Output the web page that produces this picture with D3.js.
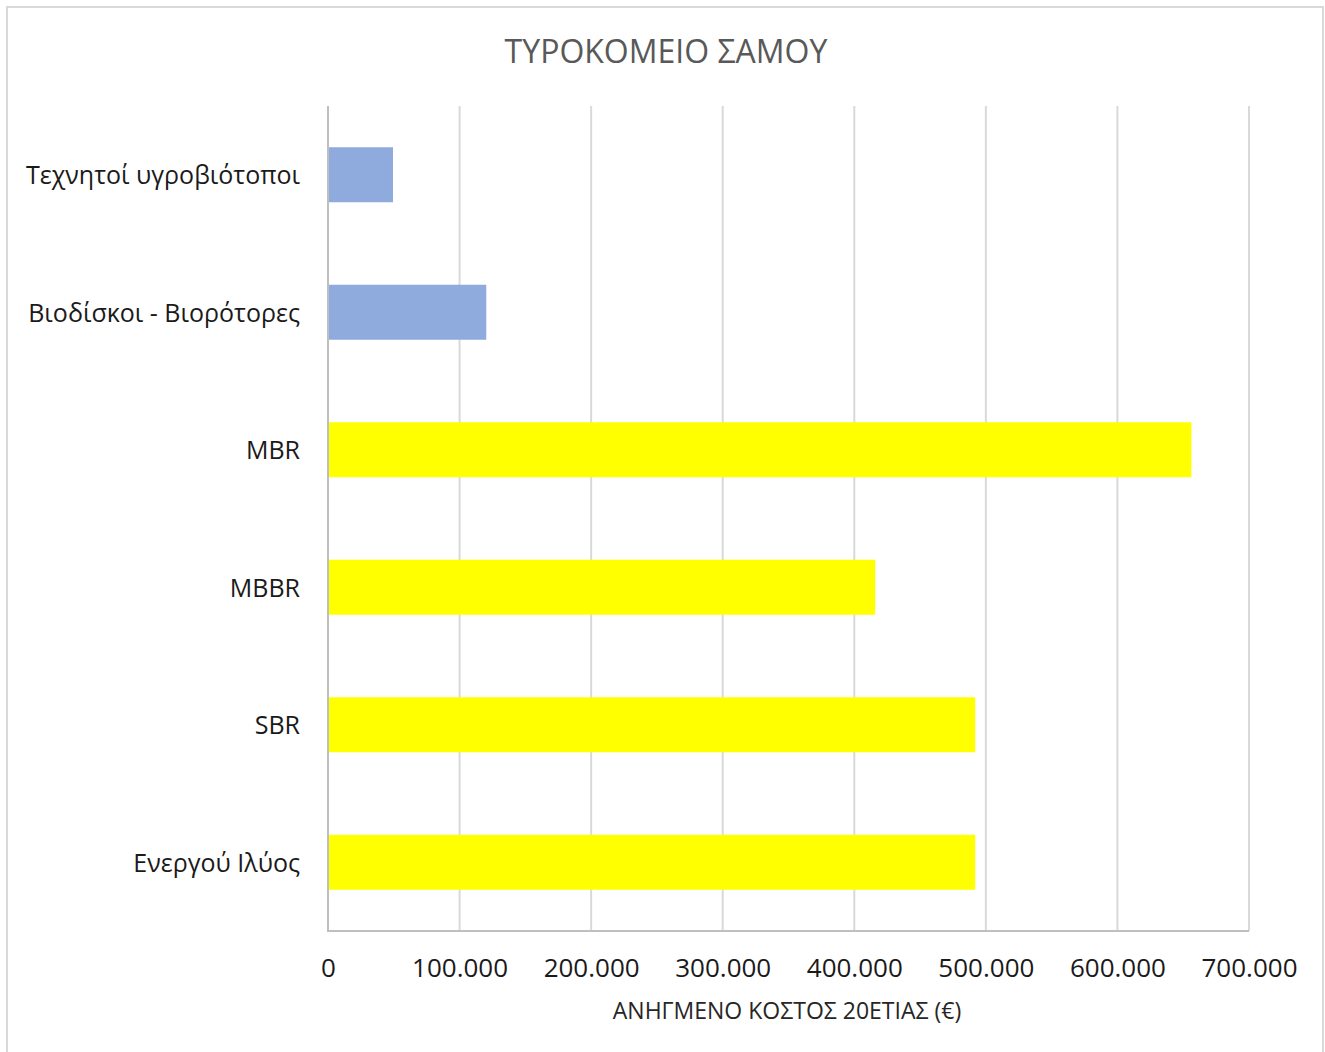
<!DOCTYPE html>
<html>
<head>
<meta charset="utf-8">
<script src="https://cdn.jsdelivr.net/npm/d3@7"></script>
<style>
  html, body { margin: 0; padding: 0; background: #fff; }
  svg { display: block; }
  text { font-family: "Open Sans", "Noto Sans", sans-serif; }
</style>
</head>
<body>
<svg id="chart" width="1325" height="1052"></svg>
<script>
// Treatment methods and their 20-year reduced cost (€)
const categories = [
  "Τεχνητοί υγροβιότοποι",
  "Βιοδίσκοι - Βιορότορες",
  "MBR",
  "MBBR",
  "SBR",
  "Ενεργού Ιλύος"
];
const costs = [49400, 120300, 656200, 415900, 491900, 491900];
const barGroups = ["natural", "natural", "mechanical", "mechanical", "mechanical", "mechanical"];
const tickValues = [0, 100000, 200000, 300000, 400000, 500000, 600000, 700000];
const tickLabels = ["0", "100.000", "200.000", "300.000", "400.000", "500.000", "600.000", "700.000"];
const titleText = "ΤΥΡΟΚΟΜΕΙΟ ΣΑΜΟΥ";
const xAxisTitle = "ΑΝΗΓΜΕΝΟ ΚΟΣΤΟΣ 20ΕΤΙΑΣ (€)";

const colors = { natural: "#8faadc", mechanical: "#ffff00" };

const svg = d3.select("#chart");
const W = 1325, H = 1052;
const plot = { left: 328, right: 1249, top: 106, bottom: 931 };

// chart frame
svg.append("rect")
  .attr("x", 7).attr("y", 7)
  .attr("width", 1316).attr("height", H)
  .attr("fill", "#fff")
  .attr("stroke", "#d9d9d9").attr("stroke-width", 2);

const x = d3.scaleLinear().domain([0, 700000]).range([plot.left, plot.right]);
const y = d3.scaleBand().domain(categories).range([plot.top, plot.bottom]).paddingInner(0.6).paddingOuter(0.3);

// vertical gridlines
svg.append("g")
  .selectAll("line")
  .data(tickValues.slice(1))
  .join("line")
  .attr("x1", d => x(d)).attr("x2", d => x(d))
  .attr("y1", plot.top).attr("y2", plot.bottom)
  .attr("stroke", "#d9d9d9").attr("stroke-width", 2);

// bars
svg.append("g")
  .selectAll("rect")
  .data(categories)
  .join("rect")
  .attr("x", x(0))
  .attr("y", d => y(d))
  .attr("width", (d, i) => x(costs[i]) - x(0))
  .attr("height", y.bandwidth())
  .attr("fill", (d, i) => colors[barGroups[i]]);

// axis lines
svg.append("line")
  .attr("x1", plot.left).attr("x2", plot.left)
  .attr("y1", plot.top).attr("y2", plot.bottom)
  .attr("stroke", "#bfbfbf").attr("stroke-width", 2);
svg.append("line")
  .attr("x1", plot.left - 1).attr("x2", plot.right)
  .attr("y1", plot.bottom).attr("y2", plot.bottom)
  .attr("stroke", "#bfbfbf").attr("stroke-width", 2);

// x tick labels
const xAxis = d3.axisBottom(x)
  .tickValues(tickValues)
  .tickFormat((d, i) => tickLabels[i])
  .tickSize(0)
  .tickPadding(0);
const gx = svg.append("g")
  .attr("transform", `translate(0,${plot.bottom})`)
  .call(xAxis);
gx.select(".domain").remove();
gx.selectAll("text")
  .attr("dy", null)
  .attr("y", 46)
  .attr("font-family", "'Open Sans', 'Noto Sans', sans-serif")
  .attr("font-size", 26)
  .attr("fill", "#1a1a1a");

// category labels
const yAxis = d3.axisLeft(y).tickSize(0).tickPadding(0);
const gy = svg.append("g")
  .attr("transform", `translate(300,0)`)
  .call(yAxis);
gy.select(".domain").remove();
gy.selectAll("text")
  .attr("dy", "0.37em")
  .attr("font-family", "'Open Sans', 'Noto Sans', sans-serif")
  .attr("font-size", 25)
  .attr("fill", "#1a1a1a");

// title
svg.append("text")
  .attr("x", 666).attr("y", 63)
  .attr("text-anchor", "middle")
  .attr("font-size", 32)
  .attr("fill", "#595959")
  .text(titleText);

// x-axis title
svg.append("text")
  .attr("x", 787).attr("y", 1019)
  .attr("text-anchor", "middle")
  .attr("font-size", 23)
  .attr("fill", "#262626")
  .text(xAxisTitle);
</script>
</body>
</html>
